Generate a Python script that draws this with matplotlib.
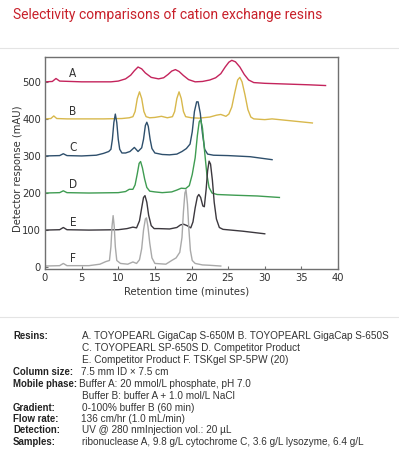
import matplotlib
matplotlib.use("Agg")
import matplotlib.pyplot as plt

W, H = 399, 463

# --- chromatogram traces (time in min, response in mAU) ---
t_a = [0, 1.0, 1.5, 2.0, 5, 9, 10, 11, 11.7, 12.2, 12.7, 13.2, 13.7, 14.5, 15.5, 16.2,
       16.8, 17.3, 17.8, 18.3, 18.9, 19.6, 20.5, 21.5, 22.5, 23.3, 24.0, 24.6, 25.1,
       25.5, 26.0, 26.6, 27.2, 27.8, 28.5, 30, 33, 36, 38.3]
y_a = [500, 501, 509, 502, 500, 500, 502, 508, 518, 530, 540, 535, 524, 512, 508, 511,
       520, 529, 533, 528, 517, 506, 500, 501, 505, 511, 522, 540, 553,
       558, 554, 540, 520, 505, 498, 496, 494, 492, 490]

t_b = [0, 0.8, 1.2, 1.6, 3, 8, 10.5, 11.5, 12.0, 12.3, 12.6, 12.9, 13.2, 13.5, 13.8,
       14.3, 15.0, 15.9, 16.7, 17.4, 17.7, 18.0, 18.3, 18.6, 18.9, 19.2, 20.0, 21,
       22.5, 23.4, 24.0, 24.7, 25.1, 25.5, 25.9, 26.3, 26.6, 26.9, 27.3, 27.7, 28.1,
       28.5, 30, 31, 33, 36.5]
y_b = [400, 401, 408, 401, 400, 400, 401, 403, 406, 420, 455, 473, 455, 420, 406,
       403, 404, 407, 403, 406, 420, 455, 473, 455, 420, 406, 403, 402,
       405, 410, 412, 407, 413, 432, 470, 505, 512, 500, 465, 425, 405,
       400, 398, 400, 396, 389]

t_c = [0, 2.0, 2.5, 3.0, 5, 7, 8.0, 8.7, 9.0, 9.2, 9.4, 9.6, 9.8, 10.0, 10.2, 10.5,
       11.0, 11.6, 12.2, 12.7, 13.2, 13.45, 13.7, 13.9, 14.1, 14.35, 14.6, 15.0, 16,
       17, 18.0, 18.7, 19.3, 19.8, 20.1, 20.4, 20.7, 20.9, 21.2, 21.5, 21.8, 22.2, 23,
       25, 28, 31]
y_c = [300, 301, 306, 301, 300, 302, 307, 312, 318, 345, 390, 413, 390, 345, 318, 308,
       308, 312, 323, 312, 322, 345, 382, 391, 380, 345, 320, 308, 304,
       303, 305, 312, 320, 332, 365, 420, 446, 446, 415, 360, 318, 305, 302,
       301, 298, 290]

t_d = [0, 2.0, 2.5, 3.0, 6, 10, 11.0, 11.5, 12.0, 12.3, 12.6, 12.85, 13.05, 13.3, 13.6,
       13.9, 14.3, 15, 16, 17.3, 18.0, 18.6, 19.2, 19.7, 20.1, 20.5, 20.8, 21.05,
       21.25, 21.5, 21.8, 22.1, 22.4, 22.8, 23.5, 26, 29, 32]
y_d = [200, 201, 206, 201, 200, 201, 204, 210, 210, 222, 252, 280, 285, 268, 238,
       215, 205, 203, 201, 203, 208, 213, 212, 220, 250, 295, 355, 392,
       398, 375, 310, 250, 215, 200, 196, 194, 192, 188]

t_e = [0, 2.0, 2.5, 3.0, 6, 10, 11.2, 12.0, 12.5, 12.9, 13.2, 13.45, 13.65, 13.9,
       14.15, 14.5, 14.9, 15.5, 17, 18.0, 18.5, 18.9, 19.4, 19.9, 20.2, 20.5, 20.8,
       21.0, 21.25, 21.55, 21.75, 22.0, 22.2, 22.4, 22.6, 22.85, 23.1, 23.4, 23.8,
       24.3, 27, 30]
y_e = [100, 101, 107, 101, 100, 101, 104, 108, 106, 125, 160, 188, 193, 175,
       140, 112, 104, 104, 103, 107, 114, 116, 112, 106, 122, 160, 190,
       196, 188, 165, 163, 210, 260, 286, 278, 235, 175, 130, 107,
       102, 97, 90]

t_f = [0, 2.0, 2.5, 3.0, 6, 7.5, 8.3, 8.8, 9.0, 9.15, 9.3, 9.45, 9.6, 9.8, 10.3, 11.3,
       12.0, 12.5, 12.9, 13.2, 13.45, 13.7, 13.85, 14.05, 14.3, 14.6, 15.0, 16.5, 17.3,
       17.9, 18.4, 18.7, 18.9, 19.1, 19.25, 19.45, 19.65, 19.85, 20.1, 20.5, 21.5,
       22.5, 24]
y_f = [3, 4, 10, 4, 4, 8, 15, 18, 55, 110, 139, 110, 55, 18, 10, 8,
       14, 10, 20, 50, 100, 130, 133, 110, 65, 25, 10, 8, 18,
       25, 40, 80, 150, 200, 209, 170, 100, 45, 18, 10, 6,
       5, 3]

labels = ["A", "B", "C", "D", "E", "F"]
label_t = [3.8, 3.8, 3.8, 3.8, 3.8, 3.8]
label_y = [522, 420, 322, 222, 120, 22]
colors = ["#c4245c", "#d8b84c", "#2e4f6c", "#3f9c52", "#3c383e", "#a9a9a9"]

x_ticks = [0, 5, 10, 15, 20, 25, 30, 35, 40]
y_ticks = [0, 100, 200, 300, 400, 500]

info = [
    ("Resins:", "A. TOYOPEARL GigaCap S-650M B. TOYOPEARL GigaCap S-650S"),
    ("", "C. TOYOPEARL SP-650S D. Competitor Product"),
    ("", "E. Competitor Product F. TSKgel SP-5PW (20)"),
    ("Column size:", "7.5 mm ID \u00d7 7.5 cm"),
    ("Mobile phase:", "Buffer A: 20 mmol/L phosphate, pH 7.0"),
    ("", "Buffer B: buffer A + 1.0 mol/L NaCl"),
    ("Gradient:", "0-100% buffer B (60 min)"),
    ("Flow rate:", "136 cm/hr (1.0 mL/min)"),
    ("Detection:", "UV @ 280 nmInjection vol.: 20 \u00b5L"),
    ("Samples:", "ribonuclease A, 9.8 g/L cytochrome C, 3.6 g/L lysozyme, 6.4 g/L"),
]
info_y = [336, 348, 360, 372, 384, 396, 408, 419, 430, 442]
info_x = [82, 82, 82, 81, 79, 82, 82, 81, 82, 82]

COND = dict(family=["DejaVu Sans"], stretch="condensed")


def fx(px):
    return px / W


def fy(py):
    return 1 - py / H


fig = plt.figure(figsize=(W / 100, H / 100), dpi=100)
fig.patch.set_facecolor("white")

fig.text(fx(13), fy(15), "Selectivity comparisons of cation exchange resins",
         color="#c8202a", fontsize=10.0, family=["Roboto"], va="center", ha="left")
fig.add_artist(plt.Line2D([0, 1], [fy(48), fy(48)], color="#e4e4e4", lw=0.8))
fig.add_artist(plt.Line2D([0, 1], [fy(317), fy(317)], color="#e4e4e4", lw=0.8))

ax = fig.add_axes([fx(45), fy(269), fx(338) - fx(45), fy(57) - fy(269)])
traces = [(t_a, y_a), (t_b, y_b), (t_c, y_c), (t_d, y_d), (t_e, y_e), (t_f, y_f)]
for (t, y), c in zip(traces, colors):
    ax.plot(t, y, color=c, lw=1.0, solid_joinstyle="round")
for lab, lt, ly in zip(labels, label_t, label_y):
    ax.text(lt, ly, lab, fontsize=8.5, color="#333333", ha="center", va="center", **COND)

ax.set_xlim(0, 40)
ax.set_ylim(-5, 567)
ax.set_xticks(x_ticks)
ax.set_yticks(y_ticks)
for sp in ax.spines.values():
    sp.set_color("#707070")
    sp.set_linewidth(1.0)
ax.tick_params(direction="in", length=2.5, width=0.8, colors="#707070",
               labelcolor="#333333", labelsize=8, pad=3)
for lab in ax.get_xticklabels() + ax.get_yticklabels():
    lab.set_family(COND["family"])
    lab.set_stretch("condensed")

fig.text(fx(187), fy(291), "Retention time (minutes)", fontsize=8, color="#333333",
         ha="center", va="center", **COND)
fig.text(fx(18), fy(169), "Detector response (mAU)", fontsize=8, color="#333333",
         ha="center", va="center", rotation=90, **COND)

for (key, val), py, px in zip(info, info_y, info_x):
    if key:
        fig.text(fx(13), fy(py), key, fontsize=6.9, fontweight="bold", color="#222222",
                 family=["Liberation Sans"], ha="left", va="center")
    fig.text(fx(px), fy(py), val, fontsize=7.2, color="#333333",
             family=["Liberation Sans"], ha="left", va="center")

fig.savefig("out.png", dpi=100)
